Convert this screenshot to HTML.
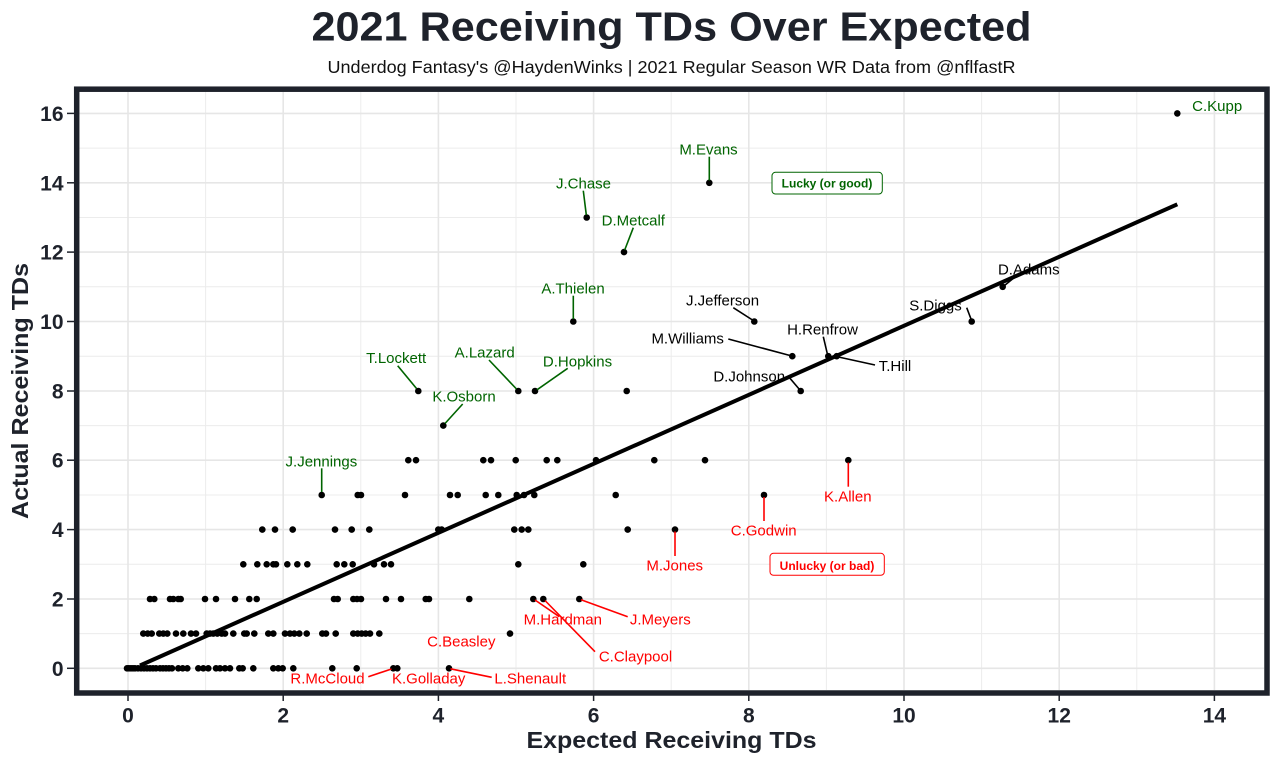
<!DOCTYPE html>
<html><head><meta charset="utf-8"><style>
html,body{margin:0;padding:0;background:#fff;}
svg{display:block;}
text{font-family:"Liberation Sans",Arial,sans-serif;}
</style></head><body>
<svg width="1280" height="765" viewBox="0 0 1280 765" xmlns="http://www.w3.org/2000/svg">
<rect x="0" y="0" width="1280" height="765" fill="#fff"/>
<!-- title -->
<text x="671.5" y="40.5" font-size="41" font-weight="bold" fill="#1e222b" text-anchor="middle" textLength="720" lengthAdjust="spacingAndGlyphs">2021 Receiving TDs Over Expected</text>
<text x="671.5" y="73" font-size="17.5" fill="#111" text-anchor="middle" textLength="688" lengthAdjust="spacingAndGlyphs">Underdog Fantasy's @HaydenWinks | 2021 Regular Season WR Data from @nflfastR</text>
<!-- grid -->
<g stroke="#ececec" stroke-width="1">
<line x1="205.6" y1="92" x2="205.6" y2="690"/><line x1="360.8" y1="92" x2="360.8" y2="690"/><line x1="516" y1="92" x2="516" y2="690"/><line x1="671.2" y1="92" x2="671.2" y2="690"/><line x1="826.4" y1="92" x2="826.4" y2="690"/><line x1="981.6" y1="92" x2="981.6" y2="690"/><line x1="1136.8" y1="92" x2="1136.8" y2="690"/>
<line x1="79" y1="633.6" x2="1264" y2="633.6"/><line x1="79" y1="564.3" x2="1264" y2="564.3"/><line x1="79" y1="495" x2="1264" y2="495"/><line x1="79" y1="425.6" x2="1264" y2="425.6"/><line x1="79" y1="356.2" x2="1264" y2="356.2"/><line x1="79" y1="286.8" x2="1264" y2="286.8"/><line x1="79" y1="217.5" x2="1264" y2="217.5"/><line x1="79" y1="148.1" x2="1264" y2="148.1"/>
</g>
<g stroke="#e6e6e6" stroke-width="1.6">
<line x1="128" y1="92" x2="128" y2="690"/><line x1="283.2" y1="92" x2="283.2" y2="690"/><line x1="438.4" y1="92" x2="438.4" y2="690"/><line x1="593.6" y1="92" x2="593.6" y2="690"/><line x1="748.8" y1="92" x2="748.8" y2="690"/><line x1="904" y1="92" x2="904" y2="690"/><line x1="1059.2" y1="92" x2="1059.2" y2="690"/><line x1="1214.4" y1="92" x2="1214.4" y2="690"/>
<line x1="79" y1="668.3" x2="1264" y2="668.3"/><line x1="79" y1="599" x2="1264" y2="599"/><line x1="79" y1="529.6" x2="1264" y2="529.6"/><line x1="79" y1="460.2" x2="1264" y2="460.2"/><line x1="79" y1="391" x2="1264" y2="391"/><line x1="79" y1="321.5" x2="1264" y2="321.5"/><line x1="79" y1="252.1" x2="1264" y2="252.1"/><line x1="79" y1="182.8" x2="1264" y2="182.8"/><line x1="79" y1="113.4" x2="1264" y2="113.4"/>
</g>
<!-- points -->
<g fill="#000">
<!-- row 0 -->
<circle cx="127" cy="668.3" r="3.3"/><circle cx="129" cy="668.3" r="3.3"/><circle cx="131" cy="668.3" r="3.3"/><circle cx="133" cy="668.3" r="3.3"/><circle cx="135" cy="668.3" r="3.3"/><circle cx="138" cy="668.3" r="3.3"/><circle cx="141" cy="668.3" r="3.3"/><circle cx="144" cy="668.3" r="3.3"/><circle cx="147" cy="668.3" r="3.3"/><circle cx="150" cy="668.3" r="3.3"/><circle cx="153" cy="668.3" r="3.3"/><circle cx="156" cy="668.3" r="3.3"/><circle cx="160" cy="668.3" r="3.3"/><circle cx="163" cy="668.3" r="3.3"/><circle cx="166" cy="668.3" r="3.3"/><circle cx="169" cy="668.3" r="3.3"/><circle cx="172" cy="668.3" r="3.3"/><circle cx="178.3" cy="668.3" r="3.3"/><circle cx="182.7" cy="668.3" r="3.3"/><circle cx="187.3" cy="668.3" r="3.3"/><circle cx="198.3" cy="668.3" r="3.3"/><circle cx="203.3" cy="668.3" r="3.3"/><circle cx="208.3" cy="668.3" r="3.3"/><circle cx="216" cy="668.3" r="3.3"/><circle cx="220" cy="668.3" r="3.3"/><circle cx="225" cy="668.3" r="3.3"/><circle cx="230" cy="668.3" r="3.3"/><circle cx="239.3" cy="668.3" r="3.3"/><circle cx="242.7" cy="668.3" r="3.3"/><circle cx="253.3" cy="668.3" r="3.3"/><circle cx="273.3" cy="668.3" r="3.3"/><circle cx="278.3" cy="668.3" r="3.3"/><circle cx="282.7" cy="668.3" r="3.3"/><circle cx="293.3" cy="668.3" r="3.3"/><circle cx="332.3" cy="668.3" r="3.3"/><circle cx="356.7" cy="668.3" r="3.3"/><circle cx="393.3" cy="668.3" r="3.3"/><circle cx="397.3" cy="668.3" r="3.3"/><circle cx="449" cy="668.3" r="3.3"/>
<!-- row 1 -->
<circle cx="143.3" cy="633.6" r="3.3"/><circle cx="147.7" cy="633.6" r="3.3"/><circle cx="151.7" cy="633.6" r="3.3"/><circle cx="159.3" cy="633.6" r="3.3"/><circle cx="163.3" cy="633.6" r="3.3"/><circle cx="167.3" cy="633.6" r="3.3"/><circle cx="176" cy="633.6" r="3.3"/><circle cx="183.3" cy="633.6" r="3.3"/><circle cx="191" cy="633.6" r="3.3"/><circle cx="196" cy="633.6" r="3.3"/><circle cx="206.7" cy="633.6" r="3.3"/><circle cx="210" cy="633.6" r="3.3"/><circle cx="213.3" cy="633.6" r="3.3"/><circle cx="217.3" cy="633.6" r="3.3"/><circle cx="221.7" cy="633.6" r="3.3"/><circle cx="225" cy="633.6" r="3.3"/><circle cx="233.3" cy="633.6" r="3.3"/><circle cx="244.3" cy="633.6" r="3.3"/><circle cx="246.7" cy="633.6" r="3.3"/><circle cx="254.3" cy="633.6" r="3.3"/><circle cx="268.3" cy="633.6" r="3.3"/><circle cx="273.3" cy="633.6" r="3.3"/><circle cx="285" cy="633.6" r="3.3"/><circle cx="290" cy="633.6" r="3.3"/><circle cx="294.3" cy="633.6" r="3.3"/><circle cx="299.3" cy="633.6" r="3.3"/><circle cx="306.7" cy="633.6" r="3.3"/><circle cx="322.3" cy="633.6" r="3.3"/><circle cx="326" cy="633.6" r="3.3"/><circle cx="335.7" cy="633.6" r="3.3"/><circle cx="353.3" cy="633.6" r="3.3"/><circle cx="357.7" cy="633.6" r="3.3"/><circle cx="361.7" cy="633.6" r="3.3"/><circle cx="365.7" cy="633.6" r="3.3"/><circle cx="370" cy="633.6" r="3.3"/><circle cx="379.3" cy="633.6" r="3.3"/><circle cx="510" cy="633.6" r="3.3"/>
<!-- row 2 -->
<circle cx="150" cy="599" r="3.3"/><circle cx="154.3" cy="599" r="3.3"/><circle cx="170" cy="599" r="3.3"/><circle cx="173.3" cy="599" r="3.3"/><circle cx="178.3" cy="599" r="3.3"/><circle cx="180.7" cy="599" r="3.3"/><circle cx="205" cy="599" r="3.3"/><circle cx="216" cy="599" r="3.3"/><circle cx="235" cy="599" r="3.3"/><circle cx="249.3" cy="599" r="3.3"/><circle cx="256.7" cy="599" r="3.3"/><circle cx="334" cy="599" r="3.3"/><circle cx="337.7" cy="599" r="3.3"/><circle cx="353.3" cy="599" r="3.3"/><circle cx="357" cy="599" r="3.3"/><circle cx="361" cy="599" r="3.3"/><circle cx="386" cy="599" r="3.3"/><circle cx="401" cy="599" r="3.3"/><circle cx="425.7" cy="599" r="3.3"/><circle cx="429" cy="599" r="3.3"/><circle cx="469.3" cy="599" r="3.3"/><circle cx="533.3" cy="599" r="3.3"/><circle cx="543.3" cy="599" r="3.3"/><circle cx="579.3" cy="599" r="3.3"/>
<!-- row 3 -->
<circle cx="243.3" cy="564.3" r="3.3"/><circle cx="257.3" cy="564.3" r="3.3"/><circle cx="266.7" cy="564.3" r="3.3"/><circle cx="273.3" cy="564.3" r="3.3"/><circle cx="276" cy="564.3" r="3.3"/><circle cx="287.3" cy="564.3" r="3.3"/><circle cx="297.3" cy="564.3" r="3.3"/><circle cx="307.3" cy="564.3" r="3.3"/><circle cx="336.7" cy="564.3" r="3.3"/><circle cx="344.3" cy="564.3" r="3.3"/><circle cx="352.7" cy="564.3" r="3.3"/><circle cx="374" cy="564.3" r="3.3"/><circle cx="384" cy="564.3" r="3.3"/><circle cx="391" cy="564.3" r="3.3"/><circle cx="518.3" cy="564.3" r="3.3"/><circle cx="583.3" cy="564.3" r="3.3"/>
<!-- row 4 -->
<circle cx="262.3" cy="529.6" r="3.3"/><circle cx="275" cy="529.6" r="3.3"/><circle cx="292.7" cy="529.6" r="3.3"/><circle cx="335" cy="529.6" r="3.3"/><circle cx="351.7" cy="529.6" r="3.3"/><circle cx="369.3" cy="529.6" r="3.3"/><circle cx="438.3" cy="529.6" r="3.3"/><circle cx="441.7" cy="529.6" r="3.3"/><circle cx="514.3" cy="529.6" r="3.3"/><circle cx="521.7" cy="529.6" r="3.3"/><circle cx="528.3" cy="529.6" r="3.3"/><circle cx="627.7" cy="529.6" r="3.3"/><circle cx="675" cy="529.6" r="3.3"/>
<!-- row 5 -->
<circle cx="321.7" cy="495" r="3.3"/><circle cx="357.7" cy="495" r="3.3"/><circle cx="361" cy="495" r="3.3"/><circle cx="405" cy="495" r="3.3"/><circle cx="450" cy="495" r="3.3"/><circle cx="457.7" cy="495" r="3.3"/><circle cx="485.7" cy="495" r="3.3"/><circle cx="498.3" cy="495" r="3.3"/><circle cx="516.7" cy="495" r="3.3"/><circle cx="524" cy="495" r="3.3"/><circle cx="534.3" cy="495" r="3.3"/><circle cx="615.7" cy="495" r="3.3"/><circle cx="764" cy="495" r="3.3"/>
<!-- row 6 -->
<circle cx="408.3" cy="460.2" r="3.3"/><circle cx="416" cy="460.2" r="3.3"/><circle cx="483.3" cy="460.2" r="3.3"/><circle cx="491" cy="460.2" r="3.3"/><circle cx="515.7" cy="460.2" r="3.3"/><circle cx="546.7" cy="460.2" r="3.3"/><circle cx="557.3" cy="460.2" r="3.3"/><circle cx="596" cy="460.2" r="3.3"/><circle cx="654.3" cy="460.2" r="3.3"/><circle cx="705" cy="460.2" r="3.3"/><circle cx="848.3" cy="460.2" r="3.3"/>
<!-- rows 7+ -->
<circle cx="443.3" cy="425.6" r="3.3"/>
<circle cx="418.3" cy="391" r="3.3"/><circle cx="518.3" cy="391" r="3.3"/><circle cx="535" cy="391" r="3.3"/><circle cx="626.7" cy="391" r="3.3"/><circle cx="800.7" cy="391" r="3.3"/>
<circle cx="792.3" cy="356.2" r="3.3"/><circle cx="828.3" cy="356.2" r="3.3"/><circle cx="836.7" cy="356.2" r="3.3"/>
<circle cx="573.3" cy="321.5" r="3.3"/><circle cx="754.3" cy="321.5" r="3.3"/><circle cx="971.7" cy="321.5" r="3.3"/>
<circle cx="1002.7" cy="286.8" r="3.3"/>
<circle cx="624" cy="252.1" r="3.3"/>
<circle cx="586.7" cy="217.5" r="3.3"/>
<circle cx="709.3" cy="182.8" r="3.3"/>
<circle cx="1177.3" cy="113.4" r="3.3"/>
</g>
<!-- regression line -->
<line x1="140" y1="665.5" x2="1177.3" y2="204.3" stroke="#000" stroke-width="4"/>
<!-- segments -->
<g stroke="#006400" stroke-width="1.6">
<line x1="321.7" y1="468.3" x2="321.7" y2="492"/>
<line x1="397.7" y1="365.7" x2="416.5" y2="388.5"/>
<line x1="489" y1="360" x2="516.5" y2="389"/>
<line x1="567.7" y1="368.3" x2="537" y2="389.8"/>
<line x1="462.7" y1="404" x2="445" y2="423.5"/>
<line x1="573.3" y1="295.7" x2="573.3" y2="319"/>
<line x1="583.3" y1="190.7" x2="586.3" y2="215"/>
<line x1="633.3" y1="227.7" x2="624.7" y2="250"/>
<line x1="709.3" y1="156.7" x2="709.3" y2="180.5"/>
</g>
<g stroke="#000" stroke-width="1.6">
<line x1="733.3" y1="307.7" x2="752.5" y2="320"/>
<line x1="728.3" y1="339" x2="790" y2="355.5"/>
<line x1="823.3" y1="336.7" x2="827.5" y2="354.5"/>
<line x1="875" y1="365" x2="838.5" y2="357"/>
<line x1="790" y1="378.3" x2="799.5" y2="389.5"/>
<line x1="1018.3" y1="274.3" x2="1004.5" y2="285.5"/>
<line x1="966.7" y1="307.7" x2="971" y2="319"/>
</g>
<g stroke="#ff0000" stroke-width="1.6">
<line x1="848.3" y1="462.5" x2="848.3" y2="486.7"/>
<line x1="764" y1="497" x2="764" y2="521"/>
<line x1="675" y1="531.5" x2="675" y2="556"/>
<line x1="535" y1="600" x2="559.3" y2="616.7"/>
<line x1="545" y1="600.5" x2="595" y2="651.7"/>
<line x1="581" y1="599.8" x2="627.7" y2="616.7"/>
<line x1="450.5" y1="668.8" x2="491.7" y2="677.3"/>
<line x1="368.3" y1="676.7" x2="391.5" y2="669"/>
</g>
<!-- labels -->
<g font-size="15" text-anchor="middle" fill="#006400">
<text x="321.4" y="466.3">J.Jennings</text>
<text x="396.2" y="363">T.Lockett</text>
<text x="484.7" y="357.3">A.Lazard</text>
<text x="577.5" y="366.3">D.Hopkins</text>
<text x="464" y="401.3">K.Osborn</text>
<text x="573" y="293.3">A.Thielen</text>
<text x="583.5" y="188.6">J.Chase</text>
<text x="633.3" y="225.3">D.Metcalf</text>
<text x="708.5" y="154.3">M.Evans</text>
<text x="1217.2" y="111">C.Kupp</text>
</g>
<g font-size="15" text-anchor="middle" fill="#000">
<text x="722.5" y="305.3">J.Jefferson</text>
<text x="687.7" y="343.6">M.Williams</text>
<text x="822.5" y="334.3">H.Renfrow</text>
<text x="895" y="371">T.Hill</text>
<text x="749.2" y="381.3">D.Johnson</text>
<text x="1028.8" y="274.6">D.Adams</text>
<text x="935.5" y="310.3">S.Diggs</text>
</g>
<g font-size="15" text-anchor="middle" fill="#ff0000">
<text x="847.8" y="501.3">K.Allen</text>
<text x="763.7" y="535.3">C.Godwin</text>
<text x="674.7" y="570.3">M.Jones</text>
<text x="562.8" y="624.3">M.Hardman</text>
<text x="660.3" y="624.3">J.Meyers</text>
<text x="635.5" y="661.3">C.Claypool</text>
<text x="461.3" y="646.3">C.Beasley</text>
<text x="327.5" y="683.6">R.McCloud</text>
<text x="428.7" y="683.6">K.Golladay</text>
<text x="530.3" y="683.6">L.Shenault</text>
</g>
<!-- boxes -->
<rect x="772" y="172.3" width="110.3" height="21.7" rx="3.5" fill="#fff" stroke="#006400" stroke-width="1"/>
<text x="827" y="187.6" font-size="12" font-weight="bold" fill="#006400" text-anchor="middle">Lucky (or good)</text>
<rect x="770" y="553.3" width="114.3" height="22" rx="3.5" fill="#fff" stroke="#ff0000" stroke-width="1"/>
<text x="827" y="570" font-size="12" font-weight="bold" fill="#ff0000" text-anchor="middle">Unlucky (or bad)</text>
<!-- panel border -->
<rect x="76.7" y="89.2" width="1190.3" height="603.8" fill="none" stroke="#1e222b" stroke-width="5.5"/>
<!-- ticks -->
<g stroke="#1e222b" stroke-width="1.5">
<line x1="67" y1="668.3" x2="74" y2="668.3"/><line x1="67" y1="599" x2="74" y2="599"/><line x1="67" y1="529.6" x2="74" y2="529.6"/><line x1="67" y1="460.2" x2="74" y2="460.2"/><line x1="67" y1="391" x2="74" y2="391"/><line x1="67" y1="321.5" x2="74" y2="321.5"/><line x1="67" y1="252.1" x2="74" y2="252.1"/><line x1="67" y1="182.8" x2="74" y2="182.8"/><line x1="67" y1="113.4" x2="74" y2="113.4"/>
<line x1="128" y1="695.5" x2="128" y2="701"/><line x1="283.2" y1="695.5" x2="283.2" y2="701"/><line x1="438.4" y1="695.5" x2="438.4" y2="701"/><line x1="593.6" y1="695.5" x2="593.6" y2="701"/><line x1="748.8" y1="695.5" x2="748.8" y2="701"/><line x1="904" y1="695.5" x2="904" y2="701"/><line x1="1059.2" y1="695.5" x2="1059.2" y2="701"/><line x1="1214.4" y1="695.5" x2="1214.4" y2="701"/>
</g>
<g font-size="21" font-weight="bold" fill="#1e222b" text-anchor="end">
<text x="63.5" y="675.8">0</text><text x="63.5" y="606.5">2</text><text x="63.5" y="537.1">4</text><text x="63.5" y="467.7">6</text><text x="63.5" y="398.5">8</text><text x="63.5" y="329">10</text><text x="63.5" y="259.6">12</text><text x="63.5" y="190.3">14</text><text x="63.5" y="120.9">16</text>
</g>
<g font-size="21" font-weight="bold" fill="#1e222b" text-anchor="middle">
<text x="128" y="722.5">0</text><text x="283.2" y="722.5">2</text><text x="438.4" y="722.5">4</text><text x="593.6" y="722.5">6</text><text x="748.8" y="722.5">8</text><text x="904" y="722.5">10</text><text x="1059.2" y="722.5">12</text><text x="1214.4" y="722.5">14</text>
</g>
<!-- axis titles -->
<text x="671.5" y="748" font-size="23" font-weight="bold" fill="#1e222b" text-anchor="middle" textLength="290" lengthAdjust="spacingAndGlyphs">Expected Receiving TDs</text>
<text transform="translate(28,391) rotate(-90)" x="0" y="0" font-size="23" font-weight="bold" fill="#1e222b" text-anchor="middle" textLength="256" lengthAdjust="spacingAndGlyphs">Actual Receiving TDs</text>
</svg>
</body></html>
